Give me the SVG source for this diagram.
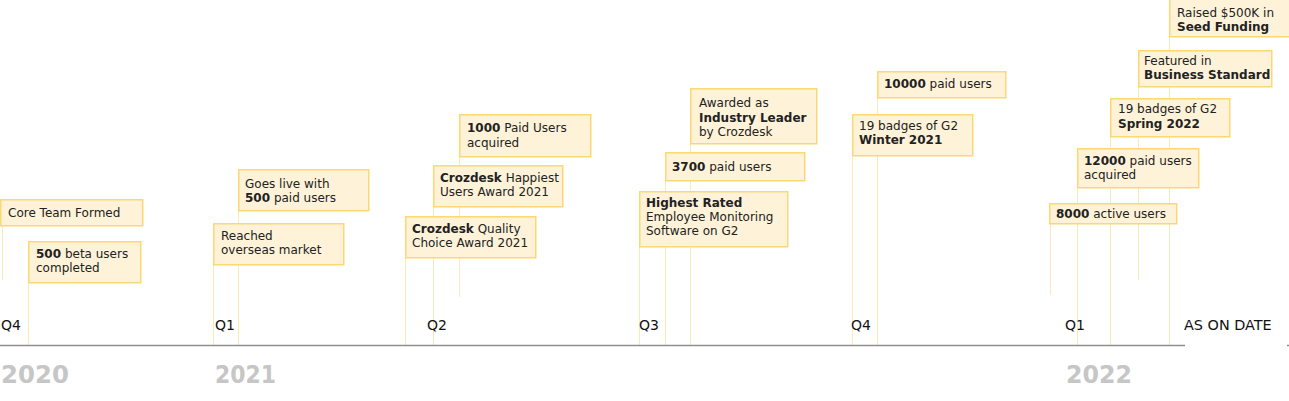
<svg xmlns="http://www.w3.org/2000/svg" width="1289" height="401" viewBox="0 0 1289 401">
<style>
text{font-family:"DejaVu Sans","Liberation Sans",sans-serif;}
.box{fill:#fef3d9;stroke:#fcd875;stroke-width:1.5;}
.t{font-size:12px;fill:#222;}
.b{font-weight:700;}
.q{font-size:14px;fill:#111;}
.yr{font-size:24px;font-weight:700;fill:#c6c6c6;}
.c{stroke:#fde9b6;stroke-width:1;}
.axis{stroke:#8e8e8e;stroke-width:1.6;}
</style>
<rect width="1289" height="401" fill="#fff"/>
<g id="connectors">
<line class="c" x1="2.5" y1="226" x2="2.5" y2="280"/>
<line class="c" x1="28.5" y1="283" x2="28.5" y2="345"/>
<line class="c" x1="213.5" y1="265" x2="213.5" y2="345"/>
<line class="c" x1="238.5" y1="211" x2="238.5" y2="345"/>
<line class="c" x1="405.5" y1="258" x2="405.5" y2="345"/>
<line class="c" x1="433.5" y1="207" x2="433.5" y2="345"/>
<line class="c" x1="459.5" y1="157" x2="459.5" y2="297"/>
<line class="c" x1="639.5" y1="247" x2="639.5" y2="345"/>
<line class="c" x1="665.5" y1="181" x2="665.5" y2="345"/>
<line class="c" x1="690.5" y1="144" x2="690.5" y2="345"/>
<line class="c" x1="852.5" y1="156" x2="852.5" y2="345"/>
<line class="c" x1="877.5" y1="98" x2="877.5" y2="345"/>
<line class="c" x1="1050.5" y1="224" x2="1050.5" y2="295"/>
<line class="c" x1="1077.5" y1="188" x2="1077.5" y2="345"/>
<line class="c" x1="1110.5" y1="137" x2="1110.5" y2="345"/>
<line class="c" x1="1138.5" y1="87" x2="1138.5" y2="280"/>
<line class="c" x1="1169.5" y1="37" x2="1169.5" y2="345"/>
</g>
<g id="axis">
<line class="axis" x1="0" y1="345.5" x2="1185" y2="345.5"/>
<line class="axis" x1="1287" y1="345.5" x2="1289" y2="345.5"/>
</g>
<g id="labels">
<text class="q" x="1" y="330">Q4</text>
<text class="q" x="215" y="330">Q1</text>
<text class="q" x="427" y="330">Q2</text>
<text class="q" x="639" y="330">Q3</text>
<text class="q" x="851" y="330">Q4</text>
<text class="q" x="1065" y="330">Q1</text>
<text class="q" x="1184" y="330" style="font-size:14.4px">AS ON DATE</text>
<text class="yr" x="1" y="383" textLength="68" lengthAdjust="spacingAndGlyphs">2020</text>
<text class="yr" x="215" y="383" textLength="61" lengthAdjust="spacingAndGlyphs">2021</text>
<text class="yr" x="1066" y="383" textLength="66" lengthAdjust="spacingAndGlyphs">2022</text>
</g>
<g id="n-core"><rect class="box" x="0.75" y="199.75" width="142" height="26"/><text class="t" x="8" y="217">Core Team Formed</text></g>
<g id="n-beta"><rect class="box" x="28.75" y="241.75" width="112" height="41"/><text class="t" x="36" y="258"><tspan class="b">500</tspan> beta users</text><text class="t" x="36" y="272">completed</text></g>
<g id="n-overseas"><rect class="box" x="213.75" y="223.75" width="130" height="41"/><text class="t" x="221" y="240">Reached</text><text class="t" x="221" y="254">overseas market</text></g>
<g id="n-live"><rect class="box" x="238.75" y="169.75" width="130" height="41"/><text class="t" x="245" y="188">Goes live with</text><text class="t" x="245" y="202"><tspan class="b">500</tspan> paid users</text></g>
<g id="n-quality"><rect class="box" x="405.75" y="216.75" width="130" height="41"/><text class="t" x="412" y="233"><tspan class="b">Crozdesk</tspan> Quality</text><text class="t" x="412" y="247">Choice Award 2021</text></g>
<g id="n-happiest"><rect class="box" x="433.75" y="165.75" width="129" height="41"/><text class="t" x="440" y="182"><tspan class="b">Crozdesk</tspan> Happiest</text><text class="t" x="440" y="196">Users Award 2021</text></g>
<g id="n-1000"><rect class="box" x="459.75" y="114.75" width="131" height="42"/><text class="t" x="467" y="132"><tspan class="b">1000</tspan> Paid Users</text><text class="t" x="467" y="147">acquired</text></g>
<g id="n-highest"><rect class="box" x="639.75" y="191.75" width="148" height="55"/><text class="t" x="646" y="207"><tspan class="b">Highest Rated</tspan></text><text class="t" x="646" y="221">Employee Monitoring</text><text class="t" x="646" y="235">Software on G2</text></g>
<g id="n-3700"><rect class="box" x="665.75" y="152.75" width="139" height="28"/><text class="t" x="672" y="171"><tspan class="b">3700</tspan> paid users</text></g>
<g id="n-leader"><rect class="box" x="690.75" y="88.75" width="126" height="55"/><text class="t" x="699" y="107">Awarded as</text><text class="t" x="699" y="122"><tspan class="b">Industry Leader</tspan></text><text class="t" x="699" y="136">by Crozdesk</text></g>
<g id="n-winter"><rect class="box" x="852.75" y="114.75" width="120" height="41"/><text class="t" x="859" y="130">19 badges of G2</text><text class="t" x="859" y="144"><tspan class="b">Winter 2021</tspan></text></g>
<g id="n-10000"><rect class="box" x="877.75" y="71.75" width="128" height="26"/><text class="t" x="884" y="88"><tspan class="b">10000</tspan> paid users</text></g>
<g id="n-8000"><rect class="box" x="1049.75" y="203.75" width="127" height="20"/><text class="t" x="1056" y="218"><tspan class="b">8000</tspan> active users</text></g>
<g id="n-12000"><rect class="box" x="1077.75" y="148.75" width="121" height="39"/><text class="t" x="1084" y="165"><tspan class="b">12000</tspan> paid users</text><text class="t" x="1084" y="179">acquired</text></g>
<g id="n-spring"><rect class="box" x="1110.75" y="98.75" width="119" height="38"/><text class="t" x="1118" y="113">19 badges of G2</text><text class="t" x="1118" y="128"><tspan class="b">Spring 2022</tspan></text></g>
<g id="n-featured"><rect class="box" x="1138.75" y="50.75" width="133" height="36"/><text class="t" x="1144" y="65">Featured in</text><text class="t" x="1144" y="79"><tspan class="b">Business Standard</tspan></text></g>
<g id="n-seed"><rect class="box" x="1169.75" y="-0.75" width="120" height="37.5"/><text class="t" x="1177" y="17">Raised $500K in</text><text class="t" x="1177" y="31"><tspan class="b">Seed Funding</tspan></text></g>
</svg>
